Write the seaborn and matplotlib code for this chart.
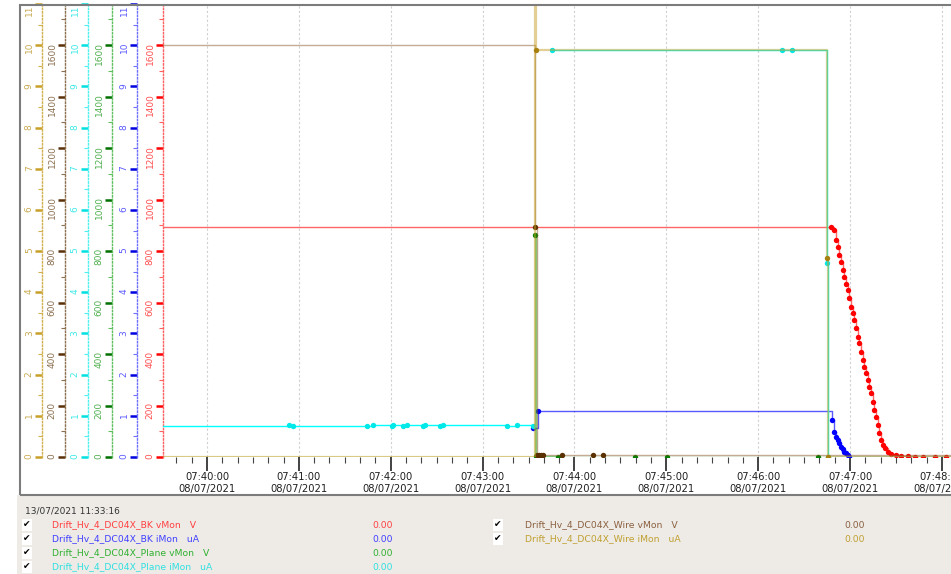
import numpy as np
import pandas as pd
import seaborn as sns
import matplotlib
matplotlib.use("Agg")
import matplotlib.pyplot as plt
import matplotlib.dates as mdates
from matplotlib.ticker import MultipleLocator
from matplotlib.patches import Rectangle

# time offsets in seconds from 07:40:00 on 08/07/2021
base = pd.Timestamp("2021-07-08 07:40:00")

# BK vMon (V)
red_t = [-90, 407.4, 409.6, 410.7, 411.8, 412.9, 414.0, 415.1, 416.2, 417.3, 418.4,
         419.5, 420.6, 421.7, 422.7, 423.8, 424.9, 426.0, 427.1, 428.2, 429.3,
         430.4, 431.5, 432.6, 433.7, 434.8, 435.9, 437.0, 438.1, 439.2, 440.3,
         441.4, 442.5, 444.6, 446.8, 450.1, 453.4, 457.7, 462.1, 467.5, 475.2,
         482.8, 500]
red_v = [895, 895, 881, 845, 817, 784, 758, 726, 700, 674, 648,
         616, 584, 558, 532, 500, 467, 441, 409, 377, 351,
         325, 299, 273, 247, 215, 183, 157, 124, 92, 66,
         47, 34, 21, 12, 6, 3, 2, 1, 1, 0,
         0, 0]

# BK iMon (uA)
blue_t = [212.9, 216.2, 408.1, 409.6, 410.7, 411.8, 412.9, 414.0, 415.1,
          416.2, 417.3, 418.4, 419.4, 500]
blue_v = [0.70, 1.12, 0.91, 0.61, 0.49, 0.41, 0.33, 0.25, 0.19,
          0.13, 0.09, 0.04, 0.01, 0.01]

# Plane vMon (V)
green_t = [-90, 214.4, 214.9, 229.3, 279.6, 300.5, 399.3, 500]
green_v = [0, 862, 2, 0, 1, 0, 1, 1]

# Plane iMon (uA), nan = no reading (gap in the trace)
cyan_t = [-90, 53.6, 56.2, 104.5, 108.4, 120.8, 121.5, 128.0, 130.6, 141.1, 142.4,
          152.2, 154.1, 195.9, 202.5, 212.9, 214.2, 225.5, 375.3, 381.9, 404.9, 405.6, 500]
cyan_v = [0.76, 0.77, 0.76, 0.76, 0.77, 0.76, 0.77, 0.76, 0.77, 0.76, 0.77,
          0.76, 0.77, 0.76, 0.77, 0.75, np.nan, 9.88, 9.89, 9.88, 4.71, 0.0, 0.0]

# Wire vMon (V)
brown_t = [-90, 214.2, 215.3, 216.8, 218.1, 219.4, 231.7, 251.9, 258.4, 500]
brown_v = [1600, 895, 8, 7, 6, 6, 6, 7, 6, 6]

# Wire iMon (uA)
gold_t = [-90, 214.2, 215.0, 404.9, 405.6, 500]
gold_v = [0.0, 13.0, 9.88, 4.83, 0.0, 0.0]

legend_names = ["Drift_Hv_4_DC04X_BK vMon   V", "Drift_Hv_4_DC04X_BK iMon   uA",
                "Drift_Hv_4_DC04X_Plane vMon   V", "Drift_Hv_4_DC04X_Plane iMon   uA",
                "Drift_Hv_4_DC04X_Wire vMon   V", "Drift_Hv_4_DC04X_Wire iMon   uA"]
legend_values = ["0.00", "0.00", "0.00", "0.00", "0.00", "0.00"]
stamp = "13/07/2021 11:33:16"

W, H = 951, 574
fig = plt.figure(figsize=(W / 100, H / 100), dpi=100, facecolor="white")


def fx(px):
    return px / W


def fy(py):
    return 1 - py / H


# bottom grey panel and chart frame
fig.add_artist(Rectangle((fx(17), 0), 1, fy(495), transform=fig.transFigure,
                         facecolor="#eeebe7", edgecolor="none", zorder=0))
fig.add_artist(Rectangle((fx(19.5), fy(495)), 1, fy(5) - fy(495), transform=fig.transFigure,
                         fill=False, edgecolor="#7c7c7c", lw=1.5, zorder=5))

ax = fig.add_axes([fx(163), fy(457), fx(960 - 163), (457 - 4) / H])
ax.patch.set_alpha(0)


def to_time(secs):
    return base + pd.to_timedelta(secs, unit="s")


def draw(axx, t, v, line_c, mark_c, alpha, lw=1.0):
    tt = to_time(t)
    v = np.asarray(v, dtype=float)
    ok = ~np.isnan(v)
    seg = np.cumsum(~ok)
    # one step line per run of valid readings
    for k in np.unique(seg[ok]):
        m = ok & (seg == k)
        sns.lineplot(x=tt[m], y=v[m], ax=axx, color=line_c, alpha=alpha, lw=lw,
                     drawstyle="steps-post", estimator=None, sort=False)
    sns.scatterplot(x=tt[ok], y=v[ok], ax=axx, color=mark_c, s=15, linewidth=0, zorder=3)


def style_axis(axx, offset_pt, ymax, major, minor, lab_c, tick_c, spine_c):
    for s in axx.spines.values():
        s.set_visible(False)
    sp = axx.spines["left"]
    sp.set_visible(True)
    sp.set_position(("outward", offset_pt))
    sp.set_linestyle((0, (1, 1.5)))
    sp.set_color(spine_c)
    sp.set_linewidth(1)
    axx.yaxis.set_ticks_position("left")
    axx.yaxis.set_label_position("left")
    axx.set_ylim(0, ymax)
    axx.yaxis.set_major_locator(MultipleLocator(major))
    axx.yaxis.set_minor_locator(MultipleLocator(minor))
    axx.tick_params(axis="y", which="major", length=5, width=1.8, color=tick_c,
                    labelcolor=lab_c, labelsize=6.5, labelrotation=90, pad=1)
    axx.tick_params(axis="y", which="minor", length=3, width=0.8, color=spine_c)
    axx.set_ylabel("")
    axx.set_xlabel("")


# drawing order: red, blue, green, cyan, brown, gold
ax_blue = ax.twinx()
ax_green = ax.twinx()
ax_cyan = ax.twinx()
ax_brown = ax.twinx()
ax_gold = ax.twinx()

draw(ax, red_t, red_v, "#ff0000", "#ff0000", 0.6)
draw(ax_blue, blue_t, blue_v, "#0000ff", "#0000ff", 0.65)
draw(ax_green, green_t, green_v, "#20b020", "#008000", 0.55)
draw(ax_cyan, cyan_t, cyan_v, "#00ffff", "#00e8e8", 1.0)
draw(ax_brown, brown_t, brown_v, "#8b5a2b", "#5a3000", 0.5)
draw(ax_gold, gold_t, gold_v, "#c8a028", "#a88010", 0.5, lw=1.6)

style_axis(ax, 0, 1760, 200, 100, "#ff5050", "#ff0000", "#ff6060")
style_axis(ax_blue, 18.7, 11, 1, 0.5, "#5a5aff", "#0000e0", "#7070ff")
style_axis(ax_green, 36.7, 1760, 200, 100, "#50b050", "#007000", "#60c060")
style_axis(ax_cyan, 54, 11, 1, 0.5, "#40e8e8", "#00e0e0", "#50f0f0")
style_axis(ax_brown, 70.6, 1760, 200, 100, "#8c7050", "#5a3008", "#8c7050")
style_axis(ax_gold, 87, 11, 1, 0.5, "#c8aa50", "#c8a028", "#d0b050")

# time axis
ax.set_xlim(to_time(-28.7), to_time(491.8))
ax.xaxis.set_major_locator(mdates.MinuteLocator())
ax.xaxis.set_minor_locator(mdates.SecondLocator(bysecond=range(0, 60, 10)))
ax.xaxis.set_major_formatter(mdates.DateFormatter("%H:%M:%S\n%d/%m/%Y"))
ax.tick_params(axis="x", which="major", length=10, width=1.2, color="#222222",
               labelsize=7.2, labelcolor="#202020", pad=1)
ax.tick_params(axis="x", which="minor", length=4, width=0.8, color="#444444")
for lab in ax.get_xticklabels():
    lab.set_linespacing(1.25)
ax.grid(axis="x", which="major", color="#d0d0d0", linestyle=(0, (2, 2)), lw=0.8)

# keep the top "11" labels inside the frame
fig.canvas.draw()
for axx in (ax_gold, ax_cyan, ax_blue):
    for tick, val in zip(axx.yaxis.get_major_ticks(), axx.yaxis.get_majorticklocs()):
        if abs(val - 11) < 1e-6:
            tick.label1.set_verticalalignment("top")

# legend panel
fig.text(fx(25), fy(511), stamp, fontsize=6.5, color="#333333", va="center")
row_y = [525, 539, 553, 567]
colors = ["#ff4040", "#4040ff", "#30b030", "#30e0e0", "#8b6040", "#c0a030"]
for i, name in enumerate(legend_names):
    if i < 4:
        cx, lx, vx, yy = 27, 52, 383, row_y[i]
    else:
        cx, lx, vx, yy = 498, 525, 855, row_y[i - 4]
    fig.text(fx(cx), fy(yy), "\u2714", fontsize=6.5, color="black", ha="center", va="center",
             bbox=dict(boxstyle="square,pad=0.15", facecolor="white", edgecolor="none"))
    fig.text(fx(lx), fy(yy), name, fontsize=6.7, color=colors[i], va="center")
    fig.text(fx(vx), fy(yy), legend_values[i], fontsize=6.7, color=colors[i],
             ha="center", va="center")

fig.savefig("out.png", dpi=100)
